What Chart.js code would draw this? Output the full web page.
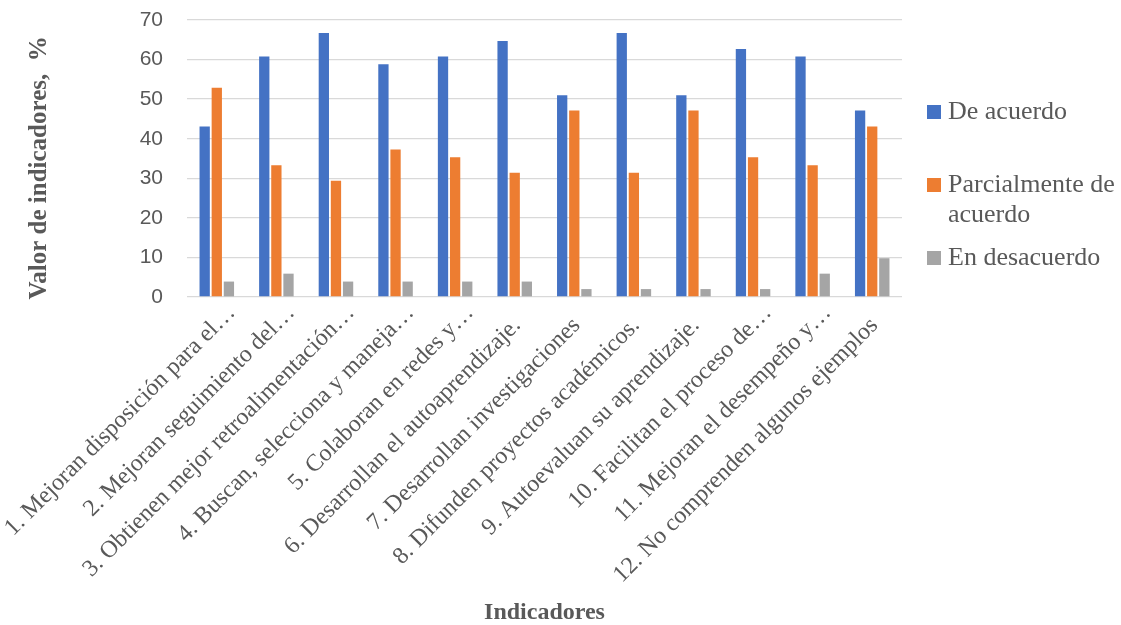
<!DOCTYPE html>
<html>
<head>
<meta charset="utf-8">
<script src="https://cdn.jsdelivr.net/npm/chart.js@4"></script>
<style>
  html, body { margin: 0; padding: 0; background: #ffffff; }
  #wrap { width: 1121px; height: 625px; }
</style>
</head>
<body>
<div id="wrap"><canvas id="chart" width="1121" height="625"></canvas></div>
<script>
// Data (percent of 51 answers). Full labels keep the trailing blanks of the source sheet.
const indicadores = [
    '1. Mejoran disposición para el…',
    '2. Mejoran seguimiento del…',
    '3. Obtienen mejor retroalimentación…',
    '4. Buscan, selecciona y maneja…',
    '5. Colaboran en redes y…',
    '6. Desarrollan el autoaprendizaje.   ',
    '7. Desarrollan investigaciones   ',
    '8. Difunden proyectos académicos.   ',
    '9. Autoevaluan su aprendizaje.   ',
    '10. Facilitan el proceso de…',
    '11. Mejoran el desempeño y…',
    '12. No comprenden algunos ejemplos   '
];
const deAcuerdo = [43.1, 60.8, 66.7, 58.8, 60.8, 64.7, 51.0, 66.7, 51.0, 62.7, 60.8, 47.1];
const parcialmente = [52.9, 33.3, 29.4, 37.3, 35.3, 31.4, 47.1, 31.4, 47.1, 35.3, 33.3, 43.1];
const desacuerdo = [3.9, 5.9, 3.9, 3.9, 3.9, 3.9, 2.0, 2.0, 2.0, 2.0, 5.9, 9.8];
const yTicks = [0, 10, 20, 30, 40, 50, 60, 70];

const seriesNames = [['De acuerdo'], ['Parcialmente de', 'acuerdo'], ['En desacuerdo']];

const textColor = '#595959';
const serif = "'Liberation Serif', 'Times New Roman', serif";

// Legend on the right, drawn by hand so the long name can wrap like the original
const sideLegend = {
    id: 'sideLegend',
    afterDraw(chart) {
        const ctx = chart.ctx;
        const left = chart.chartArea.right + 25;
        const rowsY = [112, 185, 258];
        ctx.save();
        ctx.font = '26px ' + serif;
        ctx.textBaseline = 'middle';
        ctx.textAlign = 'left';
        chart.data.datasets.forEach(function(ds, i) {
            const y = rowsY[i];
            ctx.fillStyle = ds.backgroundColor;
            ctx.fillRect(left, y - 7, 14, 14);
            ctx.fillStyle = textColor;
            seriesNames[i].forEach(function(line, j) {
                ctx.fillText(line, left + 21, y + j * 30);
            });
        });
        ctx.restore();
    }
};

new Chart(document.getElementById('chart').getContext('2d'), {
    type: 'bar',
    data: {
        labels: indicadores,
        datasets: [
            { label: seriesNames[0].join(' '), data: deAcuerdo, backgroundColor: '#4472C4' },
            { label: seriesNames[1].join(' '), data: parcialmente, backgroundColor: '#ED7D31' },
            { label: seriesNames[2].join(' '), data: desacuerdo, backgroundColor: '#A5A5A5' }
        ]
    },
    options: {
        responsive: false,
        animation: false,
        categoryPercentage: 0.61,
        barPercentage: 0.85,
        layout: { padding: { top: 20, right: 219, left: 0, bottom: 0 } },
        plugins: {
            legend: { display: false },
            tooltip: { enabled: false }
        },
        scales: {
            x: {
                grid: { display: false },
                border: { display: false },
                ticks: {
                    autoSkip: false,
                    minRotation: 45,
                    maxRotation: 45,
                    padding: -6,
                    labelOffset: 15,
                    color: textColor,
                    font: { family: serif, size: 24 }
                },
                title: {
                    display: true,
                    text: 'Indicadores',
                    color: textColor,
                    padding: 0,
                    font: { family: serif, size: 24, weight: 'bold', lineHeight: 1 }
                },
                afterFit(scale) {
                    scale.height = 328;
                    scale.paddingLeft = 0;
                    scale.paddingRight = 0;
                }
            },
            y: {
                min: 0,
                max: 70,
                afterBuildTicks(scale) {
                    scale.ticks = yTicks.map(function(v) { return { value: v }; });
                },
                grid: { color: '#D9D9D9', lineWidth: 1.3, drawTicks: false },
                border: { display: false },
                ticks: {
                    padding: 24,
                    color: textColor,
                    font: { family: "'Liberation Sans', Arial, sans-serif", size: 21 }
                },
                title: {
                    display: true,
                    text: 'Valor de indicadores,  %   ',
                    color: textColor,
                    padding: { top: 25, bottom: 0 },
                    font: { family: serif, size: 25, weight: 'bold' }
                },
                afterFit(scale) {
                    scale.width = 187;
                    scale.paddingTop = 0;
                    scale.paddingBottom = 0;
                }
            }
        }
    },
    plugins: [sideLegend]
});
</script>
</body>
</html>
